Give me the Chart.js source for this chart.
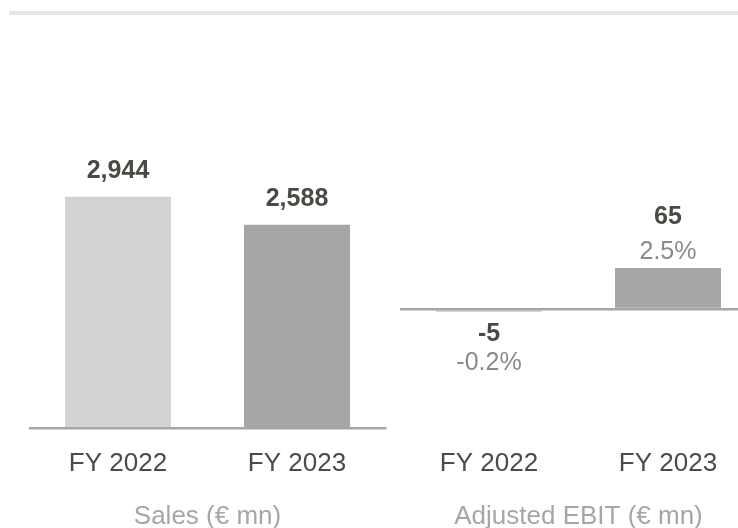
<!DOCTYPE HTML>
<html>
<head>
  <script src="https://cdn.jsdelivr.net/npm/chart.js"></script>
  <style>
    body { margin: 0; width: 738px; height: 528px; overflow: hidden; position: relative; background: #fff; }
    .rule { position: absolute; left: 9px; top: 11px; width: 729px; height: 4px; background: #e6e6e4; }
    #salesChart { position: absolute; left: 0; top: 0; }
    #ebitChart { position: absolute; left: 390px; top: 0; }
  </style>
</head>
<body>
  <div class="rule"></div>
  <canvas id="salesChart" width="400" height="540"></canvas>
  <canvas id="ebitChart" width="380" height="540"></canvas>

  <script>
    // Yearly figures
    var years = ['FY 2022', 'FY 2023'];
    var sales = [2944, 2588];
    var adjEbit = [-5, 65];
    var ebitMargin = [-0.2, 2.5];
    var barColors = ['#d3d3d3', '#a6a6a6'];

    var FONT = "'Liberation Sans', Arial, sans-serif";

    // Writes the value (and margin, if given) above positive bars / below negative ones
    var barLabels = {
      id: 'barLabels',
      afterDatasetsDraw: function (chart, args, opts) {
        var ctx = chart.ctx;
        var meta = chart.getDatasetMeta(0);
        var values = chart.data.datasets[0].data;
        ctx.save();
        ctx.textAlign = 'center';
        ctx.textBaseline = 'middle';
        meta.data.forEach(function (bar, i) {
          var v = values[i];
          var valueText = v.toLocaleString('en-US');
          ctx.font = 'bold 25px ' + FONT;
          ctx.fillStyle = '#4a4a45';
          if (!opts.margins) {
            ctx.fillText(valueText, bar.x, bar.y - 26);
            return;
          }
          var pctText = opts.margins[i].toFixed(1) + '%';
          var valY = v < 0 ? bar.y + 22 : bar.y - 51;
          var pctY = v < 0 ? bar.y + 51 : bar.y - 16;
          ctx.fillText(valueText, bar.x, valY);
          ctx.font = '25px ' + FONT;
          ctx.fillStyle = '#8a8a86';
          ctx.fillText(pctText, bar.x, pctY);
        });
        ctx.restore();
      }
    };

    function makeChart(id, values, yMin, yMax, title, padding, margins) {
      return new Chart(document.getElementById(id), {
        type: 'bar',
        data: {
          labels: years,
          datasets: [{
            data: values,
            backgroundColor: barColors,
            categoryPercentage: 1,
            barPercentage: 0.592
          }]
        },
        options: {
          responsive: false,
          animation: false,
          layout: { padding: padding },
          plugins: {
            legend: { display: false },
            tooltip: { enabled: false },
            barLabels: { margins: margins }
          },
          scales: {
            x: {
              grid: { display: false },
              border: { display: false },
              ticks: { color: '#4b4b47', font: { family: FONT, size: 26 }, padding: 12 },
              title: {
                display: true,
                text: title,
                color: '#a6a6a2',
                font: { family: FONT, size: 26 },
                padding: { top: 9, bottom: 8 }
              }
            },
            y: {
              display: true,
              min: yMin,
              max: yMax,
              // only the zero line is drawn
              afterBuildTicks: function (scale) { scale.ticks = [{ value: 0 }]; },
              ticks: { display: false },
              border: { display: false },
              grid: { color: '#a5a5a1', lineWidth: 2.5, drawTicks: false, z: 1 }
            }
          }
        },
        plugins: [barLabels]
      });
    }

    makeChart('salesChart', sales, 0, 5000, 'Sales (€ mn)',
      { left: 28.5, right: 13.5, top: 35 }, null);
    makeChart('ebitChart', adjEbit, -190, 435, 'Adjusted EBIT (€ mn)',
      { left: 9.5, right: 12.5, top: 35 }, ebitMargin);
  </script>
</body>
</html>
